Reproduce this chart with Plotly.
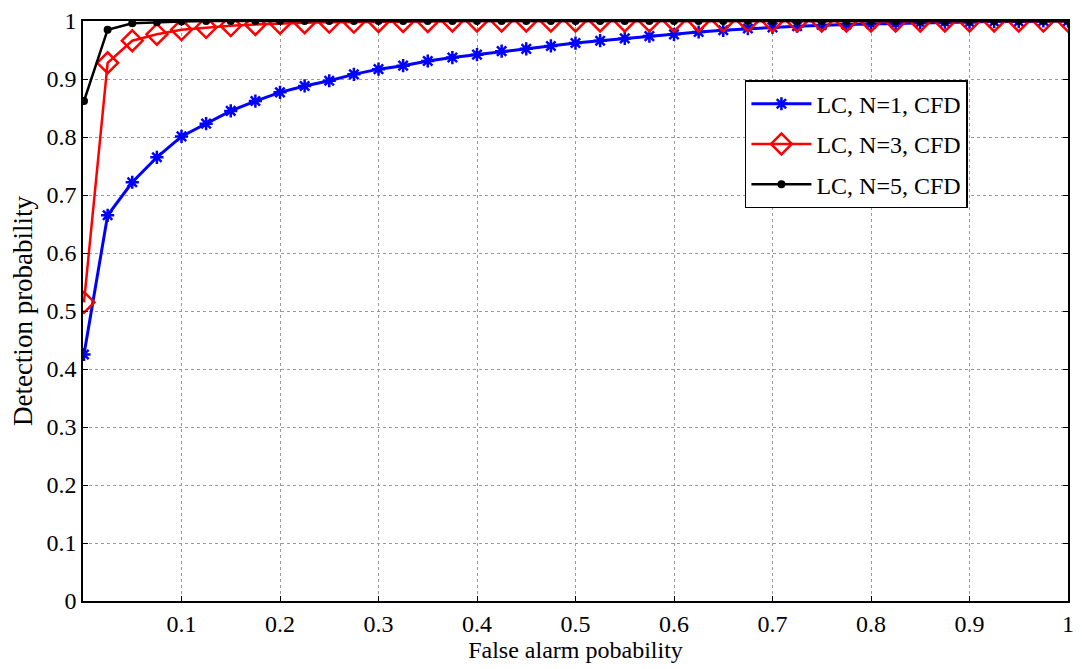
import plotly.graph_objects as go

x_vals = [0.001] + [round(0.025 * i, 3) for i in range(1, 41)]

pd_n1 = [0.425, 0.665, 0.722, 0.765, 0.801, 0.823, 0.845, 0.862, 0.877, 0.888,
         0.897, 0.908, 0.917, 0.923, 0.931, 0.937, 0.942, 0.948, 0.952, 0.957,
         0.962, 0.966, 0.970, 0.974, 0.977, 0.981, 0.984, 0.987, 0.989, 0.991,
         0.993, 0.994, 0.995, 0.996, 0.997, 0.998, 0.998, 0.999, 0.999, 1.0, 1.0]
pd_n3 = [0.515, 0.928, 0.966, 0.977, 0.985, 0.989, 0.992, 0.994, 0.996, 0.997,
         0.998, 0.998, 0.999, 0.999, 0.999, 1.0, 1.0, 1.0, 1.0, 1.0,
         1.0, 1.0, 1.0, 1.0, 1.0, 1.0, 1.0, 1.0, 1.0, 1.0,
         1.0, 1.0, 1.0, 1.0, 1.0, 1.0, 1.0, 1.0, 1.0, 1.0, 1.0]
pd_n5 = [0.862, 0.985, 0.996, 0.998, 0.999, 1.0, 1.0, 1.0, 1.0, 1.0,
         1.0, 1.0, 1.0, 1.0, 1.0, 1.0, 1.0, 1.0, 1.0, 1.0,
         1.0, 1.0, 1.0, 1.0, 1.0, 1.0, 1.0, 1.0, 1.0, 1.0,
         1.0, 1.0, 1.0, 1.0, 1.0, 1.0, 1.0, 1.0, 1.0, 1.0, 1.0]

names = ["LC, N=1, CFD", "LC, N=3, CFD", "LC, N=5, CFD"]
x_ticks = [0.1, 0.2, 0.3, 0.4, 0.5, 0.6, 0.7, 0.8, 0.9, 1.0]
x_tick_text = ["0.1", "0.2", "0.3", "0.4", "0.5", "0.6", "0.7", "0.8", "0.9", "1"]
y_ticks = [0, 0.1, 0.2, 0.3, 0.4, 0.5, 0.6, 0.7, 0.8, 0.9, 1.0]
y_tick_text = ["0", "0.1", "0.2", "0.3", "0.4", "0.5", "0.6", "0.7", "0.8", "0.9", "1"]

FONT = "Liberation Serif, Times New Roman, serif"

fig = go.Figure()
fig.add_trace(go.Scatter(
    x=x_vals, y=pd_n1, name=names[0], mode="lines+markers", legendgroup="a",
    line=dict(color="#0000ff", width=3),
    marker=dict(symbol="asterisk-open", size=11, color="#0000ff",
                line=dict(color="#0000ff", width=2.5)),
))
fig.add_trace(go.Scatter(
    x=x_vals, y=pd_n3, name=names[1], mode="lines+markers", legendgroup="b",
    line=dict(color="#ff0000", width=2.5),
    marker=dict(symbol="diamond-open", size=16, color="#ff0000",
                line=dict(color="#ff0000", width=2.5)),
))
fig.add_trace(go.Scatter(
    x=x_vals, y=pd_n5, name=names[2], mode="lines+markers", legendgroup="c",
    line=dict(color="#000000", width=2.5),
    marker=dict(symbol="circle", size=8, color="#000000"),
))

axis_common = dict(
    showline=True, linecolor="black", linewidth=1.5, mirror="ticks",
    ticks="inside", ticklen=5, tickcolor="black",
    showgrid=True, gridcolor="#9a9a9a", griddash="dot", gridwidth=1,
    zeroline=False, automargin=False,
    tickfont=dict(family=FONT, size=24, color="black"),
)

fig.update_layout(
    width=1082, height=669,
    margin=dict(l=75, r=22, t=13, b=76),
    paper_bgcolor="white", plot_bgcolor="white",
    font=dict(family=FONT, size=24, color="black"),
    xaxis=dict(range=[0, 1], tickvals=x_ticks, ticktext=x_tick_text,
               title=dict(text="False alarm pobability", font=dict(family=FONT, size=24), standoff=4),
               **axis_common),
    yaxis=dict(range=[0, 1], tickvals=y_ticks, ticktext=y_tick_text,
               title=dict(text="Detection probability", font=dict(family=FONT, size=27), standoff=6),
               **axis_common),
    legend=dict(x=0.672, y=0.898, xanchor="left", yanchor="top",
                bgcolor="white", bordercolor="black", borderwidth=1.5,
                font=dict(family=FONT, size=24, color="black"),
                traceorder="grouped", tracegroupgap=6, itemwidth=60),
    showlegend=True,
)

fig.write_html("out.html")
